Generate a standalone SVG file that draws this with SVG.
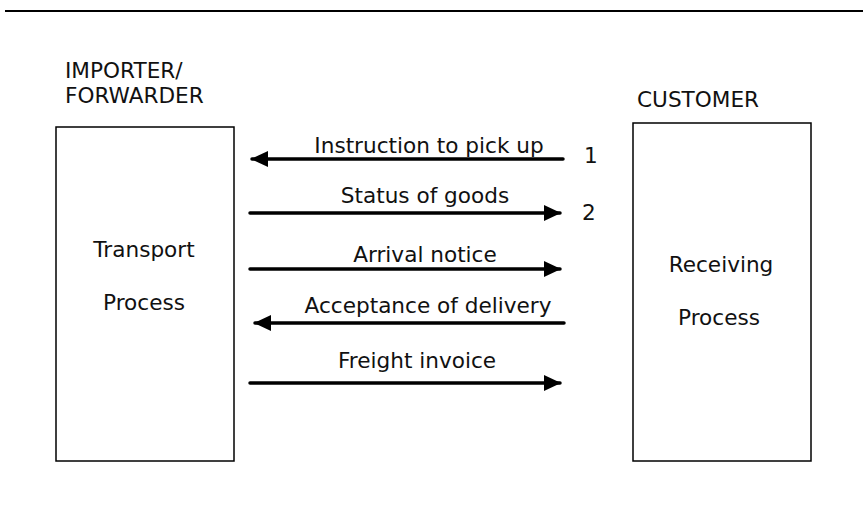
<svg xmlns="http://www.w3.org/2000/svg" width="863" height="531" viewBox="0 0 863 531">
<defs>
<style>
text{font-family:"DejaVu Sans",Verdana,sans-serif;font-size:21.6px;fill:#111}
.box{fill:#fff;stroke:#000;stroke-width:1.5}
.arr{stroke:#000;stroke-width:3.5;stroke-linecap:round;fill:none}
.m{text-anchor:middle}
</style>
<marker id="ah" viewBox="0 0 17 16" refX="16" refY="8" markerWidth="17" markerHeight="16" markerUnits="userSpaceOnUse" orient="auto">
<path d="M0,0 L17,8 L0,16 Z" fill="#000"/>
</marker>
</defs>
<rect width="863" height="531" fill="#fff"/>
<line x1="5" y1="11" x2="863" y2="11" stroke="#000" stroke-width="2"/>
<g id="importer">
<text x="65" y="78">IMPORTER/</text>
<text x="65" y="103">FORWARDER</text>
<rect class="box" x="56" y="127" width="178" height="334"/>
<text class="m" x="144" y="257">Transport</text>
<text class="m" x="144" y="310">Process</text>
</g>
<g id="customer">
<text x="637" y="107">CUSTOMER</text>
<rect class="box" x="633" y="123" width="178" height="338"/>
<text class="m" x="721" y="272">Receiving</text>
<text class="m" x="719" y="325">Process</text>
</g>
<g id="connectors">
<line class="arr" x1="563" y1="159" x2="252" y2="159" marker-end="url(#ah)"/>
<text class="m" x="429" y="153">Instruction to pick up</text>
<text x="584" y="163">1</text>
<line class="arr" x1="250" y1="213" x2="560" y2="213" marker-end="url(#ah)"/>
<text class="m" x="425" y="203">Status of goods</text>
<text x="582" y="220">2</text>
<line class="arr" x1="250" y1="269" x2="560" y2="269" marker-end="url(#ah)"/>
<text class="m" x="425" y="262">Arrival notice</text>
<line class="arr" x1="564" y1="323" x2="255" y2="323" marker-end="url(#ah)"/>
<text class="m" x="428" y="313">Acceptance of delivery</text>
<line class="arr" x1="250" y1="383" x2="560" y2="383" marker-end="url(#ah)"/>
<text class="m" x="417" y="368">Freight invoice</text>
</g>
</svg>
